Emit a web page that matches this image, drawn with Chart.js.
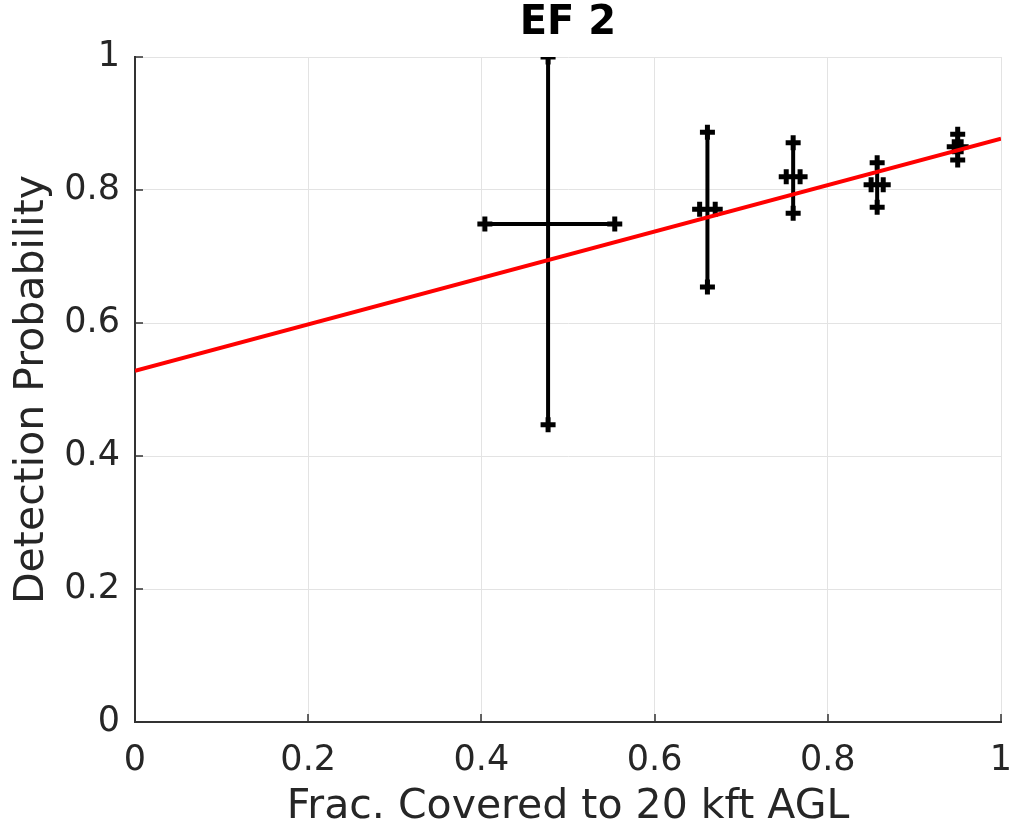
<!DOCTYPE html>
<html>
<head>
<meta charset="utf-8">
<script src="https://cdn.jsdelivr.net/npm/chart.js@4/dist/chart.umd.min.js"></script>
<style>
html,body{margin:0;padding:0;background:#fff;}
canvas{display:block;}
</style>
</head>
<body>
<canvas id="c" width="1016" height="834"></canvas>
<script>
// ---- data ----
const titleText = "EF 2";
const xLabel = "Frac. Covered to 20 kft AGL";
const yLabel = "Detection Probability";

const xTicks = [0, 0.2, 0.4, 0.6, 0.8, 1];
const yTicks = [0, 0.2, 0.4, 0.6, 0.8, 1];

const ptX  = [0.477, 0.661, 0.760, 0.857, 0.950];
const ptY  = [0.749, 0.771, 0.820, 0.808, 0.865];
const yLow = [0.447, 0.654, 0.765, 0.774, 0.845];
const yHigh= [1.000, 0.887, 0.871, 0.841, 0.884];
const xLow = [0.404, 0.652, 0.752, 0.850, 0.946];
const xHigh= [0.554, 0.670, 0.768, 0.864, 0.954];

const fitX = [0, 1];
const fitY = [0.528, 0.877];

// ---- build datasets ----
const errData = [];
for (let i = 0; i < ptX.length; i++) {
  errData.push({x: ptX[i], y: yLow[i]}, {x: ptX[i], y: yHigh[i]}, {x: ptX[i], y: null});
  errData.push({x: xLow[i], y: ptY[i]}, {x: xHigh[i], y: ptY[i]}, {x: ptX[i], y: null});
}
const fitData = fitX.map((x, i) => ({x: x, y: fitY[i]}));

const FONT = "'DejaVu Sans', sans-serif";
const TXT = '#262626';

const inwardTicks = {
  id: 'inwardTicks',
  beforeDatasetsDraw(chart) {
    const {ctx, chartArea: a, scales: {x, y}} = chart;
    ctx.save();
    ctx.strokeStyle = '#333333';
    ctx.lineWidth = 1.5;
    ctx.beginPath();
    xTicks.forEach(v => {
      const px = Math.round(x.getPixelForValue(v));
      ctx.moveTo(px, a.bottom);
      ctx.lineTo(px, a.bottom - 8);
    });
    yTicks.forEach(v => {
      const py = Math.round(y.getPixelForValue(v));
      ctx.moveTo(a.left, py);
      ctx.lineTo(a.left + 8, py);
    });
    ctx.stroke();
    ctx.restore();
  }
};

const noPad = s => { s.paddingLeft = 0; s.paddingRight = 0; s.paddingTop = 0; s.paddingBottom = 0; };

new Chart(document.getElementById('c'), {
  type: 'scatter',
  data: {
    datasets: [
      {
        label: 'fit',
        data: fitData,
        showLine: true,
        borderColor: '#ff0000',
        backgroundColor: '#ff0000',
        borderWidth: 4,
        pointRadius: 0,
        order: 0
      },
      {
        label: 'errors',
        data: errData,
        showLine: true,
        spanGaps: false,
        borderColor: '#000000',
        backgroundColor: '#000000',
        borderWidth: 4,
        pointStyle: 'cross',
        pointRadius: 7.5,
        pointBorderWidth: 5,
        pointBorderColor: '#000000',
        order: 1
      }
    ]
  },
  options: {
    responsive: false,
    animation: false,
    layout: {padding: {top: 0, right: 15, bottom: 0, left: 0}},
    plugins: {
      legend: {display: false},
      tooltip: {enabled: false},
      title: {display: false}
    },
    scales: {
      x: {
        type: 'linear',
        min: 0, max: 1,
        afterBuildTicks: s => { s.ticks = xTicks.map(v => ({value: v})); },
        afterFit: s => { s.height = 112; noPad(s); },
        grid: {color: '#e3e3e3', lineWidth: 1, drawTicks: false},
        border: {display: true, color: '#333333', width: 2},
        ticks: {
          color: TXT, padding: 18, maxRotation: 0,
          font: {family: FONT, size: 35},
          callback: v => String(v)
        },
        title: {
          display: true, text: xLabel, color: TXT,
          font: {family: FONT, size: 41, lineHeight: 1.2},
          padding: {top: 0, bottom: 2}
        }
      },
      xTop: {
        type: 'linear',
        position: 'top',
        min: 0, max: 1,
        afterFit: s => { s.height = 57; noPad(s); },
        grid: {display: false, drawTicks: false},
        border: {display: false},
        ticks: {display: false},
        title: {
          display: true, text: titleText, color: '#000000',
          font: {family: FONT, size: 40, weight: 'bold', lineHeight: 1.2},
          padding: {top: 0, bottom: 0}
        }
      },
      y: {
        type: 'linear',
        min: 0, max: 1,
        afterBuildTicks: s => { s.ticks = yTicks.map(v => ({value: v})); },
        afterFit: s => { s.width = 135; noPad(s); },
        grid: {color: '#e3e3e3', lineWidth: 1, drawTicks: false},
        border: {display: true, color: '#333333', width: 2},
        ticks: {
          color: TXT, padding: 15,
          font: {family: FONT, size: 35},
          callback: v => String(v)
        },
        title: {
          display: true, text: yLabel, color: TXT,
          font: {family: FONT, size: 41, lineHeight: 1.2},
          padding: {top: 8, bottom: 0}
        }
      }
    }
  },
  plugins: [inwardTicks]
});
</script>
</body>
</html>
